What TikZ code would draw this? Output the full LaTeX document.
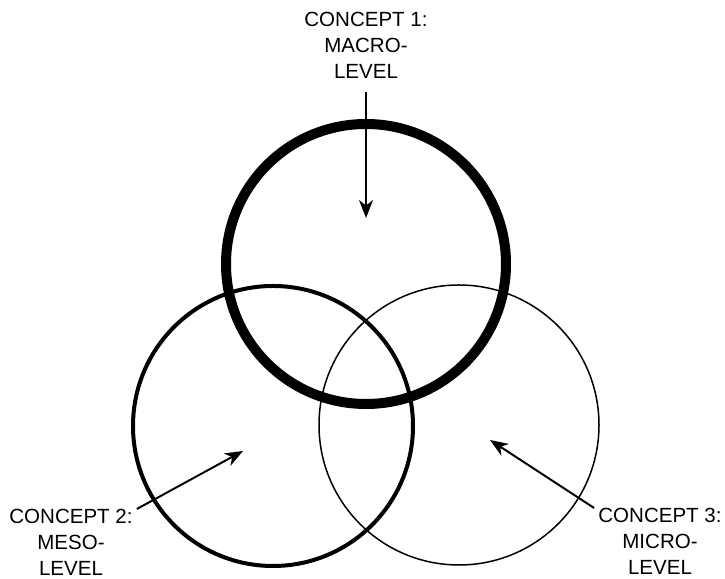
\documentclass[tikz,border=0pt]{standalone}
\usepackage{fontspec}
\setmainfont{Liberation Sans}
\usetikzlibrary{arrows.meta}

\begin{document}
\begin{tikzpicture}[x=1cm,y=1cm,lbl/.style={align=center,inner sep=0pt,font=\fontsize{14.6}{18.3}\selectfont},ar/.style={-{Stealth[length=4.5mm,width=3.5mm,inset=1.4mm]},line width=1.4pt}]
\useasboundingbox (0,0) rectangle (18.125,14.475);
% the three levels
\draw[line width=0.25cm] (9.15,7.875) circle (3.5);
\draw[line width=0.1cm] (6.825,3.825) circle (3.5);
\draw[line width=0.0375cm] (11.475,3.85) circle (3.5);
% labels
\node[lbl,anchor=north] (macro) at (9.15,14.175) {CONCEPT 1:\\MACRO-\\LEVEL};
\node[lbl,anchor=north] (meso) at (1.775,1.75) {CONCEPT 2:\\MESO-\\LEVEL};
\node[lbl,anchor=north] (micro) at (16.5,1.775) {CONCEPT 3:\\MICRO-\\LEVEL};
\coordinate (tmacro) at (9.15,9.025);
\coordinate (tmeso) at (6.075,3.2);
\coordinate (tmicro) at (12.25,3.475);
\draw[ar,shorten <=3.3mm] (macro) -- (tmacro);
\draw[ar] ([xshift=1mm]meso.north east) -- (tmeso);
\draw[ar] ([xshift=-1mm]micro.north west) -- (tmicro);
\end{tikzpicture}
\end{document}
